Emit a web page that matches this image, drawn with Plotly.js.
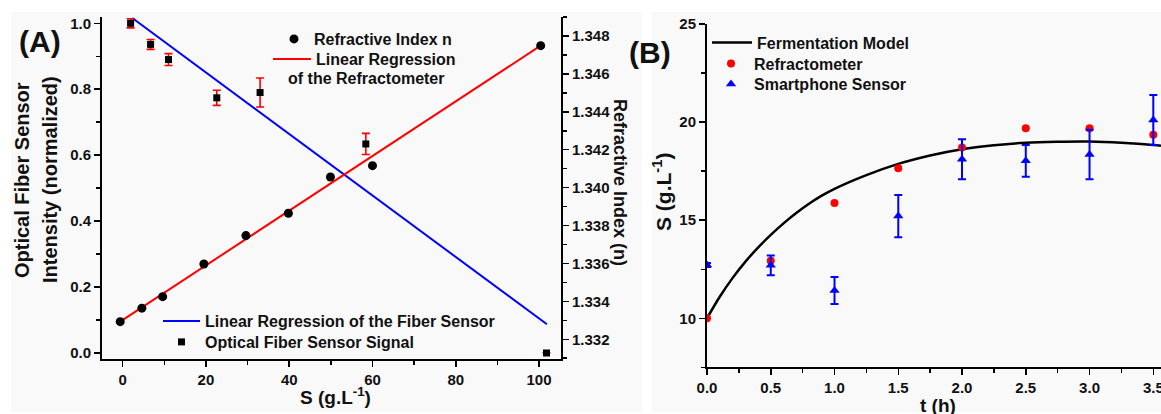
<!DOCTYPE html>
<html>
<head>
<meta charset="utf-8">
<script src="https://cdn.plot.ly/plotly-3.0.1.min.js"></script>
<style>
html,body{margin:0;padding:0;background:#ffffff;}
#chart{width:1161px;height:414px;}
</style>
</head>
<body>
<div id="chart"></div>
<script>
// ---------- Panel (A) data ----------
const fiberX = [1.9, 6.7, 11.0, 22.6, 33.0, 58.4, 101.8];
const fiberSignal = [1.000, 0.936, 0.890, 0.774, 0.790, 0.634, 0.000];
const fiberErr = [0.014, 0.015, 0.018, 0.023, 0.044, 0.032, 0];

const fiberFitX = [2.3, 101.9];
const fiberFitY = [1.016, 0.087];

const refrX = [-0.6, 4.6, 9.6, 19.5, 29.6, 39.8, 49.9, 60.0, 100.4];
const refrN = [1.33293, 1.33364, 1.33425, 1.33597, 1.33747, 1.33865, 1.34056, 1.34116, 1.34749];

const refrFitX = [-0.6, 100.4];
const refrFitN = [1.33293, 1.34749];

// ---------- Panel (B) data ----------
const tExp = [0, 0.5, 1.0, 1.5, 2.0, 2.5, 3.0, 3.5];
const sRefractometer = [10.0, 12.93, 15.88, 17.65, 18.70, 19.69, 19.69, 19.35];
const sSmartphone = [12.72, 12.70, 11.42, 15.21, 18.11, 18.03, 18.35, 20.11];
const sSmartphoneErr = [0.10, 0.50, 0.69, 1.08, 1.02, 0.81, 1.26, 1.27];

const tModel = [0, 0.1, 0.2, 0.3, 0.4, 0.5, 0.6, 0.7, 0.8, 0.9, 1.0, 1.25, 1.5, 1.75, 2.0, 2.25, 2.5, 2.75, 3.0, 3.25, 3.5, 3.56];
const sModel = [10.0, 11.1, 12.05, 12.88, 13.6, 14.25, 14.84, 15.37, 15.84, 16.25, 16.6, 17.3, 17.87, 18.3, 18.62, 18.82, 18.95, 19.0, 19.01, 18.95, 18.84, 18.80];

// ---------- geometry helpers ----------
const W = 1161, H = 414;
const px = v => v / W;
const py = v => 1 - v / H;

const FONT = 'Liberation Sans, Arial, Helvetica, sans-serif';
const tickFont = {family: FONT, size: 15, color: '#111111', weight: 700};
const legFont = {family: FONT, size: 16, color: '#111111', weight: 700};

const rangeAx = [-4.97, 105.28];
const rangeAyL = [-0.0182, 1.0191];
const rangeAyR = [1.33096, 1.349];
const rangeBx = [0, 3.5604];
const rangeBy = [7.5, 25];

const traces = [
  {
    x: fiberFitX, y: fiberFitY, type: 'scatter', mode: 'lines',
    name: 'Linear Regression of the Fiber Sensor',
    line: {color: '#0000ff', width: 2},
    xaxis: 'x', yaxis: 'y', legend: 'legend3'
  },
  {
    x: fiberX, y: fiberSignal, type: 'scatter', mode: 'markers',
    name: 'Optical Fiber Sensor Signal',
    marker: {symbol: 'square', size: 7, color: '#000000'},
    error_y: {type: 'data', array: fiberErr, visible: true, color: '#ff0000', thickness: 1.6, width: 4},
    xaxis: 'x', yaxis: 'y', legend: 'legend4'
  },
  {
    x: refrFitX, y: refrFitN, type: 'scatter', mode: 'lines',
    name: 'Linear Regression',
    line: {color: '#ff0000', width: 2},
    xaxis: 'x', yaxis: 'y2', legend: 'legend2'
  },
  {
    x: refrX, y: refrN, type: 'scatter', mode: 'markers',
    name: 'Refractive Index n',
    marker: {symbol: 'circle', size: 9, color: '#000000'},
    xaxis: 'x', yaxis: 'y2', legend: 'legend'
  },
  {
    x: tModel, y: sModel, type: 'scatter', mode: 'lines',
    name: 'Fermentation Model', line: {color: '#000000', width: 2.5, shape: 'spline'},
    xaxis: 'x3', yaxis: 'y3', legend: 'legend5'
  },
  {
    x: tExp, y: sRefractometer, type: 'scatter', mode: 'markers',
    name: 'Refractometer', marker: {symbol: 'circle', size: 8, color: '#ff0000'},
    xaxis: 'x3', yaxis: 'y3', legend: 'legend6'
  },
  {
    x: tExp, y: sSmartphone, type: 'scatter', mode: 'markers',
    name: 'Smartphone Sensor', marker: {symbol: 'triangle-up', size: 9, color: '#0000ff'},
    error_y: {type: 'data', array: sSmartphoneErr, visible: true, color: '#0000ff', thickness: 2, width: 4},
    xaxis: 'x3', yaxis: 'y3', legend: 'legend7'
  }
];

const baseAxis = {
  showgrid: false, zeroline: false, showline: true, linecolor: '#000000', linewidth: 2,
  ticks: 'outside', ticklen: 6, tickwidth: 1.5, tickcolor: '#000000',
  tickfont: tickFont, fixedrange: true
};

const annFont = (s) => ({family: FONT, size: s, color: '#111111', weight: 700});

function leg(left, top, iw) {
  return {
    x: px(left), y: py(top), xanchor: 'left', yanchor: 'top',
    bgcolor: 'rgba(0,0,0,0)', borderwidth: 0, font: legFont, itemwidth: iw,
    tracegroupgap: 0
  };
}

const layout = {
  width: W, height: H,
  margin: {l: 0, r: 0, t: 0, b: 0, pad: 0},
  paper_bgcolor: '#ffffff',
  plot_bgcolor: 'rgba(0,0,0,0)',
  showlegend: true,
  xaxis: Object.assign({}, baseAxis, {
    domain: [px(102), px(561)], range: rangeAx, anchor: 'y',
    tick0: 0, dtick: 20,
    minor: {dtick: 10, ticks: 'outside', ticklen: 4, tickwidth: 1.5, tickcolor: '#000000'}
  }),
  xaxis2: Object.assign({}, baseAxis, {
    overlaying: 'x', anchor: 'y', side: 'top', range: rangeAx,
    ticks: 'inside', showticklabels: false, tick0: 0, dtick: 20,
    minor: {dtick: 10, ticks: 'inside', ticklen: 4, tickwidth: 1.5, tickcolor: '#000000'}
  }),
  yaxis: Object.assign({}, baseAxis, {
    domain: [py(359), py(17)], range: rangeAyL, anchor: 'x',
    tick0: 0, dtick: 0.2, tickformat: '.1f',
    minor: {dtick: 0.1, ticks: 'outside', ticklen: 4, tickwidth: 1.5, tickcolor: '#000000'}
  }),
  yaxis2: Object.assign({}, baseAxis, {
    overlaying: 'y', anchor: 'x', side: 'right', range: rangeAyR,
    tick0: 1.332, dtick: 0.002, tickformat: '.3f',
    minor: {dtick: 0.001, ticks: 'outside', ticklen: 4, tickwidth: 1.5, tickcolor: '#000000'}
  }),
  xaxis3: Object.assign({}, baseAxis, {
    domain: [px(707), 1], range: rangeBx, anchor: 'y3',
    tick0: 0, dtick: 0.5, tickformat: '.1f', ticklabeloverflow: 'allow',
    minor: {dtick: 0.25, ticks: 'outside', ticklen: 4, tickwidth: 1.5, tickcolor: '#000000'}
  }),
  xaxis4: Object.assign({}, baseAxis, {
    overlaying: 'x3', anchor: 'y3', side: 'top', range: rangeBx,
    ticks: 'inside', showticklabels: false, tick0: 0, dtick: 0.5,
    minor: {dtick: 0.25, ticks: 'inside', ticklen: 4, tickwidth: 1.5, tickcolor: '#000000'}
  }),
  yaxis3: Object.assign({}, baseAxis, {
    domain: [py(367.4), py(24)], range: rangeBy, anchor: 'x3',
    tick0: 0, dtick: 5,
    minor: {dtick: 2.5, ticks: 'outside', ticklen: 4, tickwidth: 1.5, tickcolor: '#000000'}
  }),
  yaxis4: Object.assign({}, baseAxis, {
    overlaying: 'y3', anchor: 'x3', side: 'right', range: rangeBy,
    showline: false, ticks: 'inside', ticklen: 3, showticklabels: false, tick0: 0, dtick: 5
  }),
  legend: leg(274, 22, 30),
  legend2: leg(268, 42, 38),
  legend3: leg(158, 304, 37),
  legend4: leg(158, 325, 37),
  legend5: leg(707, 25.5, 40),
  legend6: leg(708, 46.5, 36),
  legend7: leg(708, 67, 36),
  shapes: [
    {type: 'rect', xref: 'paper', yref: 'paper', layer: 'below',
     x0: px(11), x1: px(642), y0: py(412), y1: py(12),
     fillcolor: '#f9f9f9', line: {width: 0}},
    {type: 'rect', xref: 'paper', yref: 'paper', layer: 'below',
     x0: px(652), x1: 1, y0: py(412), y1: py(12),
     fillcolor: '#f9f9f9', line: {width: 0}}
  ],
  annotations: [
    {text: '(A)', xref: 'paper', yref: 'paper', x: px(40), y: py(41), xanchor: 'center', yanchor: 'middle', showarrow: false, font: annFont(30)},
    {text: '(B)', xref: 'paper', yref: 'paper', x: px(650), y: py(52), xanchor: 'center', yanchor: 'middle', showarrow: false, font: annFont(30)},
    {text: 'Optical Fiber Sensor', xref: 'paper', yref: 'paper', x: px(22), y: py(180), xanchor: 'center', yanchor: 'middle', textangle: -90, showarrow: false, font: annFont(20)},
    {text: 'Intensity (normalized)', xref: 'paper', yref: 'paper', x: px(50), y: py(180), xanchor: 'center', yanchor: 'middle', textangle: -90, showarrow: false, font: annFont(20)},
    {text: 'Refractive Index (n)', xref: 'paper', yref: 'paper', x: px(620), y: py(182), xanchor: 'center', yanchor: 'middle', textangle: 90, showarrow: false, font: annFont(18)},
    {text: 'S (g.L<sup>-1</sup>)', xref: 'paper', yref: 'paper', x: px(335), y: py(396), xanchor: 'center', yanchor: 'middle', showarrow: false, font: annFont(19)},
    {text: 'S (g.L<sup>-1</sup>)', xref: 'paper', yref: 'paper', x: px(662), y: py(192), xanchor: 'center', yanchor: 'middle', textangle: -90, showarrow: false, font: annFont(21)},
    {text: 't (h)', xref: 'paper', yref: 'paper', x: px(938), y: py(405), xanchor: 'center', yanchor: 'middle', showarrow: false, font: annFont(19)},
    {text: 'of the Refractometer', xref: 'paper', yref: 'paper', x: px(286), y: py(79), xanchor: 'left', yanchor: 'middle', showarrow: false, font: legFont}
  ]
};

Plotly.newPlot('chart', traces, layout, {staticPlot: true, displayModeBar: false});
</script>
</body>
</html>
